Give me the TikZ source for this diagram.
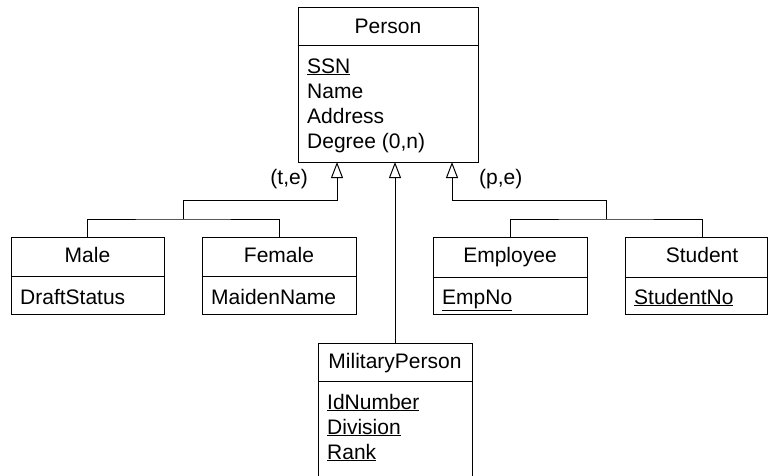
\documentclass[tikz,border=0pt]{standalone}
\usepackage{fontspec}
\setmainfont{Liberation Sans}
\usetikzlibrary{arrows.meta}
\begin{document}
\begin{tikzpicture}[x=1pt,y=-1pt,
  every node/.style={font=\fontsize{21}{25}\selectfont},
  cls/.style={draw,line width=1pt,anchor=north west,inner sep=0pt,outer sep=0pt},
  hdr/.style={inner sep=0pt,anchor=base},
  attr/.style={inner sep=0pt,anchor=base west},
  conn/.style={line width=1pt},
  isa/.style={line width=1pt,-{Triangle[open,width=12pt,length=16pt]}}]
\useasboundingbox (0,0) rectangle (768,475);
\clip (0,0) rectangle (768,475);

% Person
\node[cls,minimum width=180pt,minimum height=155pt] (person) at (298,7) {};
\draw[conn] (person.north west) ++(0,38) -- ++(180,0);
\node[hdr] (personT) at (388,33) {Person};
\node[attr] (pssn) at (307,73) {\underline{SSN}};
\node[attr] (pname) at (307,98) {Name};
\node[attr] (paddr) at (307,123) {Address};
\node[attr] (pdeg) at (307,148) {Degree (0,n)};

% Male
\node[cls,minimum width=153pt,minimum height=77pt] (male) at (11,237) {};
\draw[conn] (male.north west) ++(0,39) -- ++(153,0);
\node[hdr] (maleT) at (87.5,262) {Male};
\node[attr] (mdraft) at (20,304) {DraftStatus};

% Female
\node[cls,minimum width=154pt,minimum height=77pt] (female) at (202,237) {};
\draw[conn] (female.north west) ++(0,39) -- ++(154,0);
\node[hdr] (femaleT) at (279,262) {Female};
\node[attr] (fmaiden) at (211,304) {MaidenName};

% Employee
\node[cls,minimum width=154pt,minimum height=77pt] (emp) at (433,237) {};
\draw[conn] (emp.north west) ++(0,40) -- ++(154,0);
\node[hdr] (empT) at (510,262) {Employee};
\node[attr] (eno) at (442,304) {\underline{EmpNo}};

% Student
\node[cls,minimum width=142pt,minimum height=77pt] (stu) at (625,237) {};
\draw[conn] (stu.north west) ++(0,40) -- ++(142,0);
\coordinate (stutop) at (702,237);
\node[hdr] (stuT) at (702,262) {Student};
\node[attr] (sno) at (634,304) {\underline{StudentNo}};

% MilitaryPerson
\node[cls,minimum width=154pt,minimum height=150pt] (mil) at (318,343) {};
\draw[conn] (mil.north west) ++(0,38) -- ++(154,0);
\node[hdr] (milT) at (395,368) {MilitaryPerson};
\node[attr] (mid) at (327,409) {\underline{IdNumber}};
\node[attr] (mdiv) at (327,434) {\underline{Division}};
\node[attr] (mrank) at (327,459) {\underline{Rank}};

% connectors
\coordinate (ta) at (337,162);
\coordinate (tb) at (452,162);
\coordinate (j1) at (183,219);
\coordinate (j2) at (606,219);
\draw[conn] (male.north) |- (j1) -| (female.north);
\draw[isa] (j1) |- (337,200) -- (ta);
\draw[conn] (emp.north) |- (j2) -| (stutop);
\draw[isa] (j2) |- (452,200) -- (tb);
\draw[isa] (mil.north) -- (mil.north |- person.south);

% labels
\node[inner sep=0pt,anchor=base east] (te) at (308,184) {(t,e)};
\node[inner sep=0pt,anchor=base west] (pe) at (479,184) {(p,e)};
\end{tikzpicture}
\end{document}
